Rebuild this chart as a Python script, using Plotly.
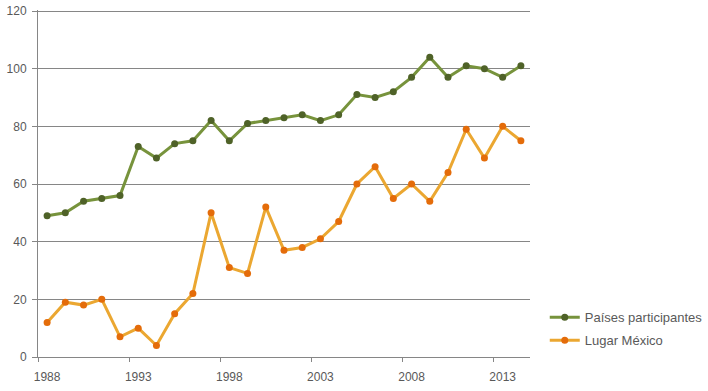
import plotly.graph_objects as go

years = list(range(1988, 2015))
paises = [49, 50, 54, 55, 56, 73, 69, 74, 75, 82, 75, 81, 82, 83, 84, 82, 84, 91,
          90, 92, 97, 104, 97, 101, 100, 97, 101]
lugar_mexico = [12, 19, 18, 20, 7, 10, 4, 15, 22, 50, 31, 29, 52, 37, 38, 41, 47, 60,
                66, 55, 60, 54, 64, 79, 69, 80, 75]
tick_years = [1988, 1993, 1998, 2003, 2008, 2013]
y_ticks = [0, 20, 40, 60, 80, 100, 120]

idx = list(range(len(years)))
tick_idx = [years.index(y) for y in tick_years]

fig = go.Figure()
fig.add_trace(go.Scatter(
    x=idx, y=paises, mode="lines+markers", name="Países participantes",
    line=dict(color="#77933C", width=3),
    marker=dict(color="#4F6228", size=7),
    legendgroup="a",
))
fig.add_trace(go.Scatter(
    x=idx, y=lugar_mexico, mode="lines+markers", name="Lugar México",
    line=dict(color="#EBA731", width=3),
    marker=dict(color="#E46C0A", size=7),
    legendgroup="b",
))

fig.update_layout(
    width=708, height=391,
    margin=dict(l=38, r=178, t=10, b=34, autoexpand=False),
    paper_bgcolor="white", plot_bgcolor="white",
    font=dict(family="Liberation Sans, Arial, sans-serif", size=12, color="#595959"),
    showlegend=True,
    legend=dict(x=1.030, y=0.081, xanchor="left", yanchor="middle",
                tracegroupgap=3, font=dict(size=13, color="#595959"),
                bgcolor="rgba(0,0,0,0)"),
    xaxis=dict(
        range=[-0.5, len(years) - 0.5], automargin=False,
        tickmode="array", tickvals=tick_idx, ticktext=[str(y) for y in tick_years],
        ticks="", showgrid=False, zeroline=False,
        showline=True, linecolor="#868686", linewidth=1,
        tickfont=dict(size=12, color="#595959"),
        ticklabelstandoff=9, ticklabeloverflow="allow",
        minor=dict(ticks="outside", tick0=-0.5, dtick=5, ticklen=4,
                   tickcolor="#868686", showgrid=False),
    ),
    yaxis=dict(
        range=[0, 120.35], tickvals=y_ticks, automargin=False,
        ticks="outside", ticklen=5, tickcolor="#868686",
        ticklabelstandoff=3, ticklabeloverflow="allow",
        showgrid=True, gridcolor="#868686", gridwidth=1,
        zeroline=False, showline=True, linecolor="#868686", linewidth=1,
        tickfont=dict(size=12, color="#595959"),
    ),
)

# remove the browser's default 8px body margin so the figure fills the window
fig.write_html("out.html", config={"displayModeBar": False},
               post_script="document.body.style.margin='0';")
